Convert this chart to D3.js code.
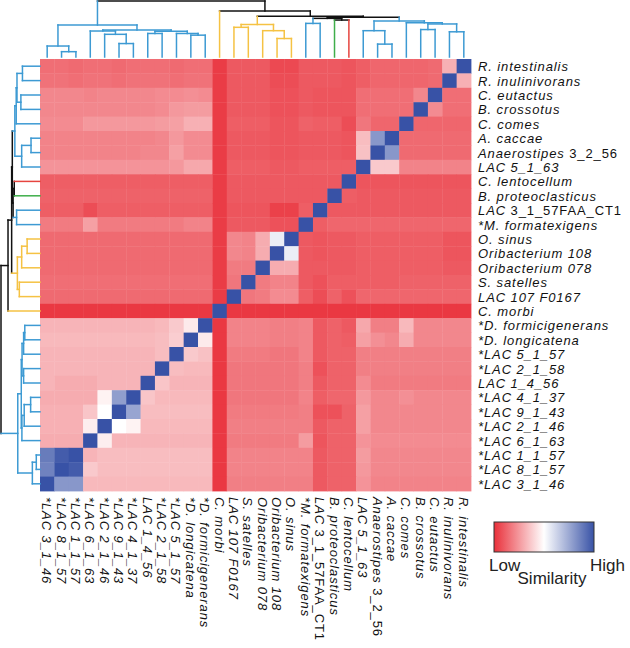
<!DOCTYPE html>
<html>
<head>
<meta charset="utf-8">
<script src="https://cdn.jsdelivr.net/npm/d3@7"></script>
<style>
  body { margin: 0; background: #fff; }
  text { font-family: "Liberation Sans", Arial, Helvetica, sans-serif; }
</style>
</head>
<body>
<div id="container"></div>
<script>
// Row labels, top to bottom: [italic part, upright part]
var rowLabels = [
  ["R. intestinalis", ""], ["R. inulinivorans", ""], ["C. eutactus", ""], ["B. crossotus", ""],
  ["C. comes", ""], ["A. caccae", ""], ["Anaerostipes", " 3_2_56"], ["LAC 5_1_63", ""],
  ["C. lentocellum", ""], ["B. proteoclasticus", ""], ["LAC", " 3_1_57FAA_CT1"], ["*M. formatexigens", ""],
  ["O. sinus", ""], ["Oribacterium 108", ""], ["Oribacterium 078", ""], ["S. satelles", ""],
  ["LAC 107 F0167", ""], ["C. morbi", ""], ["*D. formicigenerans", ""], ["*D. longicatena", ""],
  ["*LAC 5_1_57", ""], ["*LAC 2_1_58", ""], ["LAC 1_4_56", ""], ["*LAC 4_1_37", ""],
  ["*LAC 9_1_43", ""], ["*LAC 2_1_46", ""], ["*LAC 6_1_63", ""], ["*LAC 1_1_57", ""],
  ["*LAC 8_1_57", ""], ["*LAC 3_1_46", ""]
];

// Similarity (0 low .. 100 high), one row per row label, columns left to right
// (columns are the row labels in reverse order)
var similarity = [
  [15,15,14,15,15,14,15,15,15,14,15,15,3,10,10,10,6,6,10,10,10,9,11,13,13,13,13,14,31,100],
  [16,16,15,16,16,15,16,16,16,15,16,16,3,10,10,10,7,7,10,10,10,9,11,13,13,13,13,14,100,31],
  [21,21,21,20,21,21,21,21,22,22,23,22,3,10,10,10,8,8,10,9,9,9,15,15,15,15,21,100,15,15],
  [21,21,21,21,21,21,21,21,22,25,26,26,3,10,10,10,8,8,10,9,9,9,15,15,15,15,100,22,15,15],
  [22,22,22,25,25,25,25,25,26,27,31,31,3,11,11,11,9,9,12,11,11,7,17,13,13,100,13,13,13,13],
  [20,20,20,20,20,20,20,20,21,25,22,22,3,10,10,10,9,9,10,10,10,9,34,80,100,14,14,14,14,14],
  [20,20,20,20,20,20,20,21,21,27,22,22,3,10,10,10,9,9,10,10,10,9,35,100,80,14,14,14,14,14],
  [24,24,24,24,24,24,24,24,24,25,29,29,3,11,11,11,10,10,11,11,11,11,100,37,37,20,20,20,20,20],
  [11,11,11,11,11,11,11,11,11,11,11,11,3,10,10,10,10,10,10,10,10,100,9,9,9,9,9,9,9,9],
  [12,12,12,12,12,12,12,12,12,12,12,12,3,10,10,10,10,10,10,10,100,11,10,10,10,10,10,10,10,10],
  [11,11,11,7,11,11,11,11,11,11,11,11,3,9,9,9,4,4,11,100,10,10,10,10,10,10,10,10,10,10],
  [18,18,18,27,18,18,18,18,18,18,20,20,3,10,10,10,8,8,100,11,13,13,13,13,13,13,13,13,13,13],
  [14,14,14,14,14,14,14,14,14,14,14,14,3,21,20,30,55,100,10,9,10,10,11,11,11,11,11,11,9,9],
  [14,14,14,14,14,14,14,14,14,14,14,14,3,21,20,30,100,55,10,9,10,10,11,11,11,11,11,11,9,9],
  [14,14,14,14,14,14,14,14,14,14,14,14,3,18,18,100,30,30,10,10,10,10,11,11,11,11,11,11,10,10],
  [15,15,15,15,15,15,15,15,15,15,15,15,3,17,100,18,20,20,10,8,11,11,11,11,11,12,12,12,12,12],
  [14,14,14,14,14,14,14,14,14,14,14,14,3,100,17,18,22,22,11,7,12,8,13,13,13,13,13,13,13,13],
  [2,2,2,2,2,2,2,2,2,2,2,2,100,2,2,2,2,2,2,2,2,2,2,2,2,2,2,2,2,2],
  [32,32,32,32,32,32,32,32,33,37,45,100,2,20,20,20,19,19,20,10,12,10,29,19,19,33,21,21,21,21],
  [33,33,33,33,33,33,33,33,34,38,100,45,2,20,20,20,19,19,20,10,12,11,27,23,21,30,21,21,21,21],
  [32,32,32,32,32,32,32,32,34,100,37,35,2,18,18,18,17,17,20,10,12,12,19,19,19,19,19,19,19,19],
  [32,32,32,32,32,32,32,32,100,34,33,33,2,17,17,17,17,17,19,8,12,12,19,19,19,19,19,19,19,19],
  [32,30,30,30,32,32,32,100,36,32,32,32,2,17,17,17,17,17,19,10,12,12,22,18,18,18,18,18,18,18],
  [30,30,30,30,47,78,100,36,33,33,33,33,2,17,17,17,17,17,20,11,13,13,25,21,21,23,21,21,21,21],
  [31,31,31,36,50,100,76,34,34,34,34,34,2,18,18,18,18,18,19,8,8,12,27,21,21,21,21,21,21,21],
  [31,31,31,46,100,50,47,33,33,33,33,33,2,19,19,19,19,19,19,10,12,12,27,21,21,21,21,21,21,21],
  [30,30,30,100,46,32,32,32,32,32,32,32,2,18,18,18,18,18,26,9,12,12,24,22,22,22,22,22,22,22],
  [88,97,100,32,34,34,34,34,34,34,34,34,2,20,20,20,20,20,20,10,12,12,26,21,21,21,21,21,21,21],
  [86,100,97,37,34,34,34,34,34,34,34,34,2,20,20,20,20,20,20,10,12,12,25,21,21,21,21,21,21,21],
  [100,80,80,33,33,33,33,33,33,33,33,33,2,19,19,19,19,19,19,10,12,12,24,20,20,20,20,20,20,20]
];

// Clustering tree: [height, left, right], leaves are row indices (height 0..1)
var tree = [1.0,
  [0.57,
    [0.196, 29, [0.095, 28, 27]],
    [0.48,
      [0.464, 26, [0.405, 25, [0.24, 24, 23]]],
      [0.46, [0.42, 22, 21], [0.42, 20, [0.39, 19, 18]]]]],
  [0.82, 17,
    [0.727,
      [0.58, [0.53, 16, 15], [0.47, 14, [0.33, 13, 12]]],
      [0.71,
        [0.69, [0.6, 11, 10], [0.66, 9, 8]],
        [0.645, [0.47, 7, [0.23, 6, 5]], [0.61, 4, [0.59, [0.49, 3, 2], [0.45, 1, 0]]]]]]]];

// Cluster colour of each leaf (row order) and the cut height
var leafColors = ["b","b","b","b","b","b","b","b","r","g","b","b",
  "y","y","y","y","y","y","b","b","b","b","b","b","b","b","b","b","b","b"];
var cutHeight = 0.65;
var palette = { b: "#3d9ad3", y: "#f5c243", g: "#3fae4a", r: "#e6453f", k: "#111111" };

var legendLabels = ["Low", "High"];
var legendTitle = "Similarity";

var n = rowLabels.length;
var width = 630, height = 648;

var svg = d3.select("#container")
  .append("svg")
  .attr("width", width)
  .attr("height", height);

// Set the ranges
var x = d3.scaleBand().domain(d3.range(n)).range([40, 471]);
var y = d3.scaleBand().domain(d3.range(n)).range([59, 491]);
var color = d3.scaleLinear().domain([0, 50, 100]).range(["#e9303a", "#ffffff", "#3852a6"]);

// column j shows row label n-1-j
var colOf = function (i) { return n - 1 - i; };

// Heatmap cells
var cells = [];
similarity.forEach(function (row, i) {
  row.forEach(function (v, j) { cells.push({ r: i, c: j, v: v }); });
});

svg.append("g").selectAll("rect")
  .data(cells)
  .enter().append("rect")
  .attr("x", function (d) { return x(d.c); })
  .attr("y", function (d) { return y(d.r); })
  .attr("width", x.bandwidth() + 0.4)
  .attr("height", y.bandwidth() + 0.4)
  .attr("fill", function (d) { return color(d.v); });

// Row labels on the right
var rowText = svg.append("g").selectAll("text")
  .data(rowLabels)
  .enter().append("text")
  .attr("x", 478)
  .attr("y", function (d, i) { return y(i) + y.bandwidth() / 2 + 5; })
  .style("font-size", "13px")
  .style("letter-spacing", "0.9px")
  .attr("fill", "#111");
rowText.append("tspan").style("font-style", "italic").text(function (d) { return d[0]; });
rowText.append("tspan").text(function (d) { return d[1]; });

// Column labels underneath, rotated
var colText = svg.append("g").selectAll("text")
  .data(rowLabels)
  .enter().append("text")
  .attr("transform", function (d, i) {
    return "translate(" + (x(colOf(i)) + x.bandwidth() / 2 - 5) + ",497) rotate(90)";
  })
  .style("font-size", "13px")
  .style("letter-spacing", "0.9px")
  .attr("fill", "#111");
colText.append("tspan").style("font-style", "italic").text(function (d) { return d[0]; });
colText.append("tspan").text(function (d) { return d[1]; });

// Dendrograms
function leaves(node) {
  if (typeof node === "number") return [node];
  return leaves(node[1]).concat(leaves(node[2]));
}
function nodeHeight(node) { return typeof node === "number" ? 0 : node[0]; }
function nodeColor(node) {
  if (typeof node === "number") return palette[leafColors[node]];
  if (node[0] < cutHeight) return palette[leafColors[leaves(node)[0]]];
  return palette.k;
}

// pos: leaf index -> position along leaf axis, lev: height -> position along height axis
function drawTree(g, pos, lev, horizontal) {
  function place(node) {
    if (typeof node === "number") return pos(node);
    return (place(node[1]) + place(node[2])) / 2;
  }
  function seg(a1, h1, a2, h2, c) {
    var p = horizontal
      ? [a1, lev(h1), a2, lev(h2)]
      : [lev(h1), a1, lev(h2), a2];
    g.append("line")
      .attr("x1", p[0]).attr("y1", p[1]).attr("x2", p[2]).attr("y2", p[3])
      .attr("stroke", c)
      .attr("stroke-width", 1.5)
      .attr("stroke-linecap", "square");
  }
  function walk(node) {
    if (typeof node === "number") return;
    var h = node[0], pc = nodeColor(node);
    var a = place(node[1]), b = place(node[2]);
    seg(a, h, b, h, pc);
    seg(a, h, a, nodeHeight(node[1]), nodeColor(node[1]));
    seg(b, h, b, nodeHeight(node[2]), nodeColor(node[2]));
    walk(node[1]);
    walk(node[2]);
  }
  walk(tree);
}

var topTree = svg.append("g");
drawTree(topTree,
  function (i) { return x(colOf(i)) + x.bandwidth() / 2; },
  d3.scaleLinear().domain([0, 1]).range([57, 1]),
  true);

var leftTree = svg.append("g");
drawTree(leftTree,
  function (i) { return y(i) + y.bandwidth() / 2; },
  d3.scaleLinear().domain([0, 1]).range([40, 1]),
  false);

// Legend
var defs = svg.append("defs");
var grad = defs.append("linearGradient").attr("id", "simGrad");
[0, 25, 50, 75, 100].forEach(function (v) {
  grad.append("stop").attr("offset", v + "%").attr("stop-color", color(v));
});

var legend = svg.append("g");
legend.append("rect")
  .attr("x", 494).attr("y", 522)
  .attr("width", 100).attr("height", 30)
  .attr("fill", "url(#simGrad)")
  .attr("stroke", "#333")
  .attr("stroke-width", 1);
legend.append("text")
  .attr("x", 489).attr("y", 571)
  .style("font-size", "17px")
  .attr("fill", "#222")
  .text(legendLabels[0]);
legend.append("text")
  .attr("x", 625).attr("y", 571)
  .attr("text-anchor", "end")
  .style("font-size", "17px")
  .attr("fill", "#222")
  .text(legendLabels[1]);
legend.append("text")
  .attr("x", 552).attr("y", 584)
  .attr("text-anchor", "middle")
  .style("font-size", "17px")
  .attr("fill", "#222")
  .text(legendTitle);
</script>
</body>
</html>
